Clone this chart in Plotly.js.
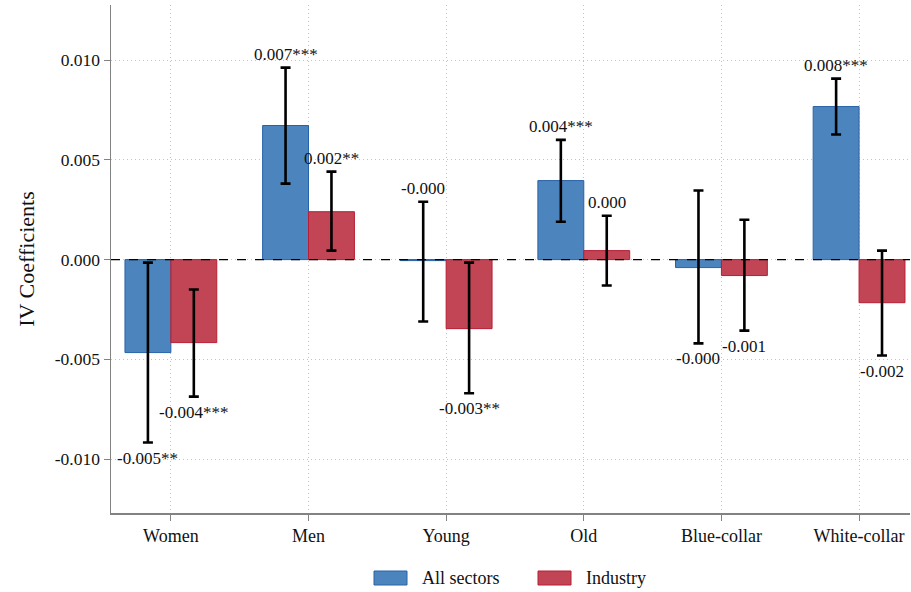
<!DOCTYPE html>
<html>
<head>
<meta charset="utf-8">
<script src="https://cdn.plot.ly/plotly-3.0.1.min.js"></script>
<style>html,body{margin:0;padding:0;background:#fff;}#chart{width:911px;height:592px;}</style>
</head>
<body>
<div id="chart"></div>
<script>
// ---- data ----
var categories = ["Women", "Men", "Young", "Old", "Blue-collar", "White-collar"];
var allCoef   = [-0.00466, 0.00672, -0.00005, 0.00396, -0.00040, 0.00767];
var allLo     = [-0.00917, 0.00381, -0.00310, 0.00190, -0.00420, 0.00627];
var allHi     = [-0.00015, 0.00962,  0.00290, 0.00600,  0.00346, 0.00907];
var allStars  = ["**", "***", "", "***", "", "***"];
var indCoef   = [-0.00416, 0.00240, -0.00346, 0.00045, -0.00080, -0.00216];
var indLo     = [-0.00687, 0.00045, -0.00670, -0.00130, -0.00356, -0.00481];
var indHi     = [-0.00150, 0.00441, -0.00015, 0.00220,  0.00200,  0.00045];
var indStars  = ["***", "**", "**", "", "", ""];
var seriesNames = ["All sectors", "Industry"];
var yTickVals = [-0.010, -0.005, 0.000, 0.005, 0.010];
var yTickText = ["-0.010", "-0.005", "0.000", "0.005", "0.010"];
// label placement (layout config)
var allLabelSide = ["below", "above", "above", "above", "below", "above"];
var indLabelSide = ["below", "above", "below", "above", "below", "below"];

var FONT = "Liberation Serif, Times New Roman, serif";
var blueFill = "rgb(76,133,189)", blueLine = "rgb(38,98,168)";
var redFill = "rgb(193,69,84)", redLine = "rgb(184,30,52)";
var fills = [blueFill, redFill], lines = [blueLine, redLine];
var xIdx = categories.map(function(_, i){ return i; });

function errUp(c, hi){ return c.map(function(v,i){ return hi[i]-v; }); }
function errDn(c, lo){ return c.map(function(v,i){ return v-lo[i]; }); }

var errStyle = {color: "#000", thickness: 2.6, width: 5};
var traces = [
  {type: "bar", name: seriesNames[0], x: xIdx, y: allCoef,
   marker: {color: blueFill, line: {color: blueLine, width: 1}},
   error_y: Object.assign({type: "data", symmetric: false, array: errUp(allCoef, allHi), arrayminus: errDn(allCoef, allLo)}, errStyle),
   offsetgroup: "a", hoverinfo: "skip", showlegend: false},
  {type: "bar", name: seriesNames[1], x: xIdx, y: indCoef,
   marker: {color: redFill, line: {color: redLine, width: 1}},
   error_y: Object.assign({type: "data", symmetric: false, array: errUp(indCoef, indHi), arrayminus: errDn(indCoef, indLo)}, errStyle),
   offsetgroup: "b", hoverinfo: "skip", showlegend: false}
];

var bargap = 0.333;
var barW = (1 - bargap) / 2;
var annotations = [];
function addLabels(coef, lo, hi, stars, side, offset){
  coef.forEach(function(v, i){
    var above = side[i] === "above";
    annotations.push({
      x: i + offset, y: above ? hi[i] : lo[i], xref: "x", yref: "y",
      text: v.toFixed(3) + stars[i], showarrow: false,
      xanchor: "center", yanchor: above ? "bottom" : "top",
      yshift: above ? 2 : -4,
      font: {family: FONT, size: 17, color: "#111"}
    });
  });
}
addLabels(allCoef, allLo, allHi, allStars, allLabelSide, -barW/2);
addLabels(indCoef, indLo, indHi, indStars, indLabelSide, barW/2);

// custom legend (wide swatches like the original)
var shapes = [{type: "line", xref: "paper", x0: 0, x1: 1, yref: "y", y0: 0, y1: 0,
               line: {color: "#000", width: 1.3, dash: "dash"}, layer: "above"}];
var legendX = [374, 538];   // pixel left of swatch within the page
var legendW = [83, 70];
seriesNames.forEach(function(nm, k){
  var plotL = 111, plotW = 911 - 111 - 1, plotT = 5, plotH = 592 - 5 - 79;
  var x0 = (legendX[k] - plotL) / plotW, x1 = (legendX[k] + 33 - plotL) / plotW;
  var y0 = (plotT + plotH - 585) / plotH, y1 = (plotT + plotH - 571) / plotH;
  shapes.push({type: "rect", xref: "paper", yref: "paper", x0: x0, x1: x1, y0: y0, y1: y1,
               fillcolor: fills[k], line: {color: lines[k], width: 1}});
  annotations.push({xref: "paper", yref: "paper", x: (legendX[k] + 46 - plotL) / plotW,
                    y: (plotT + plotH - 578) / plotH, text: nm, showarrow: false,
                    xanchor: "left", yanchor: "middle",
                    font: {family: FONT, size: 18, color: "#111"}});
});

var layout = {
  width: 911, height: 592,
  margin: {l: 111, r: 1, t: 5, b: 79, autoexpand: false},
  paper_bgcolor: "#fff", plot_bgcolor: "#fff",
  barmode: "group", bargap: bargap, bargroupgap: 0,
  font: {family: FONT, size: 18, color: "#111"},
  showlegend: false,
  xaxis: {
    range: [-0.435, 5.37], tickvals: xIdx, ticktext: categories,
    showgrid: true, gridcolor: "rgb(195,195,195)", griddash: "1px,3px", gridwidth: 1,
    showline: true, linecolor: "rgb(130,130,130)", linewidth: 1.5,
    ticks: "outside", ticklen: 6, tickcolor: "rgb(130,130,130)",
    zeroline: false, fixedrange: true, automargin: false,
    tickfont: {family: FONT, size: 18, color: "#111"}
  },
  yaxis: {
    range: [-0.0127, 0.01276], tickvals: yTickVals, ticktext: yTickText,
    showgrid: true, gridcolor: "rgb(195,195,195)", griddash: "1px,3px", gridwidth: 1,
    showline: true, linecolor: "rgb(130,130,130)", linewidth: 1.5,
    ticks: "outside", ticklen: 6, tickcolor: "rgb(130,130,130)",
    zeroline: false, fixedrange: true, automargin: false,
    tickfont: {family: FONT, size: 17.5, color: "#111"},
    title: {text: "IV Coefficients", font: {family: FONT, size: 22, color: "#111"}, standoff: 14}
  },
  shapes: shapes,
  annotations: annotations
};

Plotly.newPlot("chart", traces, layout, {displayModeBar: false, staticPlot: true});
</script>
</body>
</html>
